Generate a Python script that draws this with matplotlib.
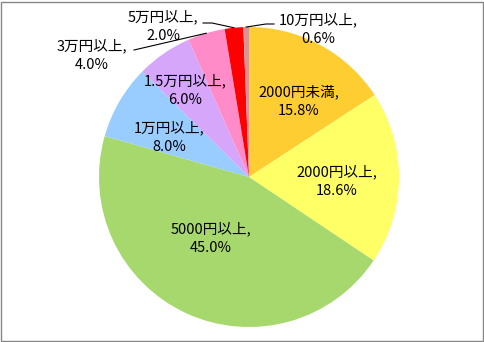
import numpy as np
import matplotlib
matplotlib.use("Agg")
import matplotlib.pyplot as plt
from matplotlib.patches import Rectangle

plt.rcParams['font.family'] = ['Noto Sans CJK JP', 'DejaVu Sans']

categories = ["2000円未満", "2000円以上", "5000円以上", "1万円以上",
              "1.5万円以上", "3万円以上", "5万円以上", "10万円以上"]
shares = [15.8, 18.6, 45.0, 8.0, 6.0, 4.0, 2.0, 0.6]
colors = ["#FDCD32", "#FFFF66", "#A6D86E", "#99CCFF",
          "#D6A6FA", "#FF8CC8", "#FF0000", "#D99594"]

W, H = 485, 342
fig = plt.figure(figsize=(W / 100, H / 100), dpi=100)
ax = fig.add_axes([0, 0, 1, 1])

cx, cy, R = 249, H - 177, 150
ax.pie(shares, colors=colors, startangle=90, counterclock=False,
       center=(cx, cy), radius=R, frame=True,
       wedgeprops=dict(linewidth=0))
ax.set_xlim(0, W)
ax.set_ylim(0, H)
ax.set_aspect("equal")
ax.axis("off")

# label anchor points (pixel coordinates from the top-left)
label_pos = [(299, 101), (337, 181), (211, 238), (169, 137),
             (185, 90), (92, 55), (163, 26), (318, 29)]
for name, val, (px, py) in zip(categories, shares, label_pos):
    ax.text(px, H - py, f"{name},\n{val:.1f}%", ha="center", va="center",
            fontsize=10.5, linespacing=1.4, color="black")

# leader lines for the thin slices
cum = np.cumsum([0] + shares[:-1])
mids = (cum + np.array(shares) / 2) / 100 * 360
def edge_point(i, r=R):
    th = np.deg2rad(mids[i])
    return cx + r * np.sin(th), cy + r * np.cos(th)

ex, ey = edge_point(5)
ax.plot([134, ex], [H - 50, ey], color="black", lw=0.8)
ex, ey = edge_point(6)
ax.plot([203, 212, ex], [H - 23, H - 23, ey], color="black", lw=0.8)
ex, ey = edge_point(7)
ax.plot([274, 266, ex], [H - 24, H - 24, ey], color="black", lw=0.8)

fig.patches.append(Rectangle((1.5 / W, 1.5 / H), (W - 3) / W, (H - 3) / H,
                             transform=fig.transFigure, fill=False,
                             edgecolor="#868686", linewidth=1))
fig.savefig("out.png", dpi=100, facecolor="white")
